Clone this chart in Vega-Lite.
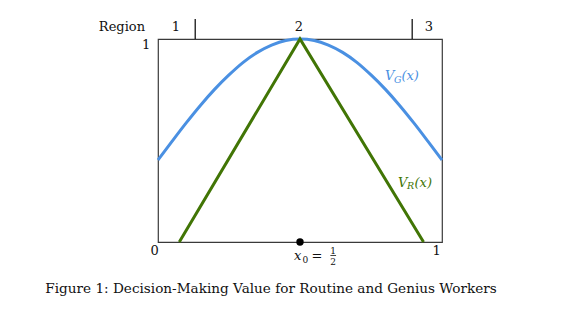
{
  "$schema": "https://vega.github.io/schema/vega-lite/v6.json",
  "width": 284,
  "height": 203,
  "autosize": {"type": "none"},
  "padding": {"left": 158, "top": 39, "right": 142, "bottom": 73},
  "background": "white",
  "config": {
    "view": {"stroke": "#3a3a3a", "strokeWidth": 1.2},
    "text": {"font": "DejaVu Serif", "fontSize": 13, "color": "#111111", "baseline": "alphabetic"}
  },
  "datasets": {
    "curves": [
      {"x": 0.0, "y": 0.404, "series": "VG"},
      {"x": 0.05, "y": 0.497, "series": "VG"},
      {"x": 0.1, "y": 0.588, "series": "VG"},
      {"x": 0.15, "y": 0.674, "series": "VG"},
      {"x": 0.2, "y": 0.753, "series": "VG"},
      {"x": 0.25, "y": 0.823, "series": "VG"},
      {"x": 0.3, "y": 0.885, "series": "VG"},
      {"x": 0.35, "y": 0.934, "series": "VG"},
      {"x": 0.4, "y": 0.97, "series": "VG"},
      {"x": 0.45, "y": 0.993, "series": "VG"},
      {"x": 0.5, "y": 1.0, "series": "VG"},
      {"x": 0.55, "y": 0.993, "series": "VG"},
      {"x": 0.6, "y": 0.97, "series": "VG"},
      {"x": 0.65, "y": 0.934, "series": "VG"},
      {"x": 0.7, "y": 0.885, "series": "VG"},
      {"x": 0.75, "y": 0.823, "series": "VG"},
      {"x": 0.8, "y": 0.753, "series": "VG"},
      {"x": 0.85, "y": 0.674, "series": "VG"},
      {"x": 0.9, "y": 0.588, "series": "VG"},
      {"x": 0.95, "y": 0.497, "series": "VG"},
      {"x": 1.0, "y": 0.404, "series": "VG"},
      {"x": 0.075, "y": 0.0, "series": "VR"},
      {"x": 0.5, "y": 1.0, "series": "VR"},
      {"x": 0.935, "y": 0.0, "series": "VR"}
    ],
    "labels": [
      {"x": -0.127, "y": 1.039, "text": "Region"},
      {"x": 0.063, "y": 1.039, "text": "1"},
      {"x": 0.496, "y": 1.039, "text": "2"},
      {"x": 0.954, "y": 1.039, "text": "3"},
      {"x": -0.012, "y": -0.064, "text": "0"},
      {"x": 0.981, "y": -0.064, "text": "1"},
      {"x": -0.042, "y": 0.951, "text": "1"}
    ],
    "caption": [
      {"x": 0.398, "y": -0.251, "text": "Figure 1: Decision-Making Value for Routine and Genius Workers"}
    ],
    "ticks": [
      {"x": 0.131, "y": 1.0, "y2": 1.099},
      {"x": 0.895, "y": 1.0, "y2": 1.099}
    ],
    "math": [
      {"x": 0.799, "y": 0.798, "main": "V", "sub": "G", "rest": "(x)", "series": "VG"},
      {"x": 0.845, "y": 0.271, "main": "V", "sub": "R", "rest": "(x)", "series": "VR"}
    ],
    "point": [{"x": 0.5, "y": 0.0}],
    "frac": [{"x": 0.607, "x2": 0.627, "y": -0.0665}]
  },
  "layer": [
    {
      "data": {"name": "curves"},
      "transform": [{"filter": "datum.series == 'VG'"}],
      "mark": {"type": "line", "strokeWidth": 3, "interpolate": "monotone", "clip": false},
      "encoding": {
        "x": {"field": "x", "type": "quantitative", "scale": {"domain": [0, 1], "nice": false}, "axis": null},
        "y": {"field": "y", "type": "quantitative", "scale": {"domain": [0, 1], "nice": false}, "axis": null},
        "color": {"field": "series", "type": "nominal", "scale": {"domain": ["VG", "VR"], "range": ["#4a90e2", "#417505"]}, "legend": null}
      }
    },
    {
      "data": {"name": "curves"},
      "transform": [{"filter": "datum.series == 'VR'"}],
      "mark": {"type": "line", "strokeWidth": 3, "interpolate": "linear", "clip": false},
      "encoding": {
        "x": {"field": "x", "type": "quantitative"},
        "y": {"field": "y", "type": "quantitative"},
        "color": {"field": "series", "type": "nominal", "legend": null}
      }
    },
    {
      "data": {"name": "point"},
      "mark": {"type": "point", "filled": true, "color": "#000000", "size": 55, "opacity": 1},
      "encoding": {
        "x": {"field": "x", "type": "quantitative"},
        "y": {"field": "y", "type": "quantitative"}
      }
    },
    {
      "data": {"name": "ticks"},
      "mark": {"type": "rule", "color": "#000000", "strokeWidth": 1.2},
      "encoding": {
        "x": {"field": "x", "type": "quantitative"},
        "y": {"field": "y", "type": "quantitative"},
        "y2": {"field": "y2"}
      }
    },
    {
      "data": {"name": "labels"},
      "mark": {"type": "text", "align": "center"},
      "encoding": {
        "x": {"field": "x", "type": "quantitative"},
        "y": {"field": "y", "type": "quantitative"},
        "text": {"field": "text"}
      }
    },
    {
      "data": {"name": "caption"},
      "mark": {"type": "text", "align": "center", "fontSize": 13.6},
      "encoding": {
        "x": {"field": "x", "type": "quantitative"},
        "y": {"field": "y", "type": "quantitative"},
        "text": {"field": "text"}
      }
    },
    {
      "data": {"name": "math"},
      "mark": {"type": "text", "align": "left", "fontStyle": "italic", "fontSize": 13},
      "encoding": {
        "x": {"field": "x", "type": "quantitative"},
        "y": {"field": "y", "type": "quantitative"},
        "text": {"field": "main"},
        "color": {"field": "series", "type": "nominal", "legend": null}
      }
    },
    {
      "data": {"name": "math"},
      "mark": {"type": "text", "align": "left", "fontStyle": "italic", "fontSize": 9.5, "dx": 9, "dy": 2.5},
      "encoding": {
        "x": {"field": "x", "type": "quantitative"},
        "y": {"field": "y", "type": "quantitative"},
        "text": {"field": "sub"},
        "color": {"field": "series", "type": "nominal", "legend": null}
      }
    },
    {
      "data": {"name": "math"},
      "mark": {"type": "text", "align": "left", "fontStyle": "italic", "fontSize": 13, "dx": 16.5},
      "encoding": {
        "x": {"field": "x", "type": "quantitative"},
        "y": {"field": "y", "type": "quantitative"},
        "text": {"field": "rest"},
        "color": {"field": "series", "type": "nominal", "legend": null}
      }
    },
    {
      "data": {"name": "point"},
      "mark": {"type": "text", "align": "left", "fontStyle": "italic", "text": "x", "dx": -6, "dy": 0},
      "encoding": {
        "x": {"field": "x", "type": "quantitative"},
        "y": {"datum": -0.0887, "type": "quantitative"}
      }
    },
    {
      "data": {"name": "point"},
      "mark": {"type": "text", "align": "left", "fontSize": 9, "text": "0", "dx": 2.5, "dy": 3},
      "encoding": {
        "x": {"field": "x", "type": "quantitative"},
        "y": {"datum": -0.0887, "type": "quantitative"}
      }
    },
    {
      "data": {"name": "point"},
      "mark": {"type": "text", "align": "left", "text": "=", "dx": 11.5},
      "encoding": {
        "x": {"field": "x", "type": "quantitative"},
        "y": {"datum": -0.0887, "type": "quantitative"}
      }
    },
    {
      "data": {"name": "point"},
      "mark": {"type": "text", "align": "center", "fontSize": 9, "text": "1", "dx": 33, "dy": -6},
      "encoding": {
        "x": {"field": "x", "type": "quantitative"},
        "y": {"datum": -0.0887, "type": "quantitative"}
      }
    },
    {
      "data": {"name": "point"},
      "mark": {"type": "text", "align": "center", "fontSize": 9, "text": "2", "dx": 33, "dy": 5},
      "encoding": {
        "x": {"field": "x", "type": "quantitative"},
        "y": {"datum": -0.0887, "type": "quantitative"}
      }
    },
    {
      "data": {"name": "frac"},
      "mark": {"type": "rule", "color": "#111111", "strokeWidth": 0.8},
      "encoding": {
        "x": {"field": "x", "type": "quantitative"},
        "x2": {"field": "x2"},
        "y": {"field": "y", "type": "quantitative"}
      }
    }
  ]
}
